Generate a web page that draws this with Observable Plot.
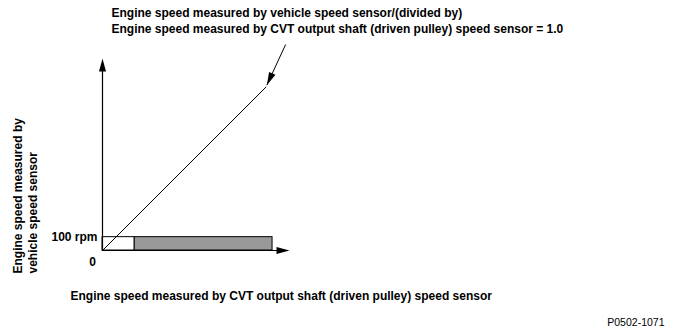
<!DOCTYPE html>
<html>
<head>
<meta charset="utf-8">
<script src="https://cdn.jsdelivr.net/npm/d3@7"></script>
<script src="https://cdn.jsdelivr.net/npm/@observablehq/plot@0.6"></script>
<style>
  html, body { margin: 0; padding: 0; background: #fff; }
  #chart svg { display: block; }
</style>
</head>
<body>
<div id="chart"></div>
<script>
// ---- data (rpm units, both axes share the same scale) ----
const titleLines = [
  "Engine speed measured by vehicle speed sensor/(divided by)",
  "Engine speed measured by CVT output shaft (driven pulley) speed sensor = 1.0"
];
const yLabelLines = ["Engine speed measured by", "vehicle speed sensor"];
const xLabel = "Engine speed measured by CVT output shaft (driven pulley) speed sensor";
const figureCode = "P0502-1071";
const yTickValues = [100];
const yTickLabels = ["100 rpm"];
const originLabel = "0";

const axisTipX = 1402;   // x-axis arrow tip
const axisTipY = 1440;   // y-axis arrow tip
const ratioLine = [[0, 0], [1225, 1225]];           // ratio = 1.0 line
const thresholdRpm = 100;                             // 100 rpm band
const bandWhite = {x1: 0, x2: 240};                   // unshaded part of band
const bandGray  = {x1: 240, x2: 1275};                // shaded part of band
const pointerFrom = [1373, 1545];
const pointerTo   = [1232, 1240];

// elongated filled arrowhead, tip at the origin, pointing up
const headSymbol = {
  draw(ctx) {
    ctx.moveTo(0, 0);
    ctx.lineTo(3.5, 13);
    ctx.lineTo(-3.5, 13);
    ctx.closePath();
  }
};
// clockwise rotation from "up" towards the pointer direction (x and y share a scale)
const pointerAngle = Math.atan2(pointerTo[0] - pointerFrom[0], pointerTo[1] - pointerFrom[1]) * 180 / Math.PI;

const chart = Plot.plot({
  width: 674,
  height: 336,
  marginLeft: 102,
  marginRight: 385,
  marginTop: 58,
  marginBottom: 86,
  style: {fontFamily: "'Liberation Sans', Arial, sans-serif", fontSize: "12px", fontWeight: "bold", color: "#000", background: "#fff"},
  x: {domain: [0, axisTipX], axis: null},
  y: {domain: [0, axisTipY], axis: null},
  marks: [
    // shaded band
    Plot.rect([bandGray], {x1: "x1", x2: "x2", y1: 0, y2: thresholdRpm, fill: "#999999", stroke: "#000", strokeWidth: 1}),
    Plot.rect([bandWhite], {x1: "x1", x2: "x2", y1: 0, y2: thresholdRpm, fill: "#fff", stroke: "#000", strokeWidth: 1}),
    // ratio line
    Plot.line(ratioLine, {x: d => d[0], y: d => d[1], stroke: "#000", strokeWidth: 1}),
    // axes
    Plot.link([0], {x1: 0, y1: 0, x2: 0, y2: axisTipY - 40, stroke: "#000", strokeWidth: 1.2}),
    Plot.link([0], {x1: 0, y1: 0, x2: axisTipX - 40, y2: 0, stroke: "#000", strokeWidth: 1.2}),
    Plot.dot([[0, axisTipY]], {x: d => d[0], y: d => d[1], symbol: headSymbol, fill: "#000", stroke: null, rotate: 0}),
    Plot.dot([[axisTipX, 0]], {x: d => d[0], y: d => d[1], symbol: headSymbol, fill: "#000", stroke: null, rotate: 90}),
    // pointer arrow from title
    Plot.link([0], {x1: pointerFrom[0], y1: pointerFrom[1], x2: pointerTo[0], y2: pointerTo[1], stroke: "#000", strokeWidth: 1, clip: false}),
    Plot.dot([pointerTo], {x: d => d[0], y: d => d[1], symbol: headSymbol, fill: "#000", stroke: null, rotate: pointerAngle}),
    // y tick label
    Plot.axisY({ticks: yTickValues, tickFormat: (d, i) => yTickLabels[i], tickSize: 0, tickPadding: 5, fontSize: 12, fontWeight: "bold", anchor: "left"}),
    Plot.text([originLabel], {frameAnchor: "bottom-left", dx: -10, dy: 12, text: d => d, textAnchor: "middle", lineAnchor: "middle"}),
    // titles
    Plot.text([titleLines.join("\n")], {frameAnchor: "top-left", dx: 111 - 102, dy: 19 - 58, text: d => d, textAnchor: "start", lineAnchor: "middle", lineHeight: 1.33}),
    Plot.text([yLabelLines.join("\n")], {frameAnchor: "bottom-left", dx: 11 - 102, dy: 273 - 250, text: d => d, textAnchor: "start", lineAnchor: "top", lineHeight: 1.25, rotate: -90}),
    Plot.text([xLabel], {frameAnchor: "bottom-left", dx: 70 - 102, dy: 296 - 250, text: d => d, textAnchor: "start", lineAnchor: "middle"}),
    Plot.text([figureCode], {frameAnchor: "bottom-left", dx: 664 - 102, dy: 322 - 250, text: d => d, textAnchor: "end", lineAnchor: "middle", fontWeight: "normal", fontSize: 10.5})
  ]
});
document.getElementById("chart").appendChild(chart);
</script>
</body>
</html>
